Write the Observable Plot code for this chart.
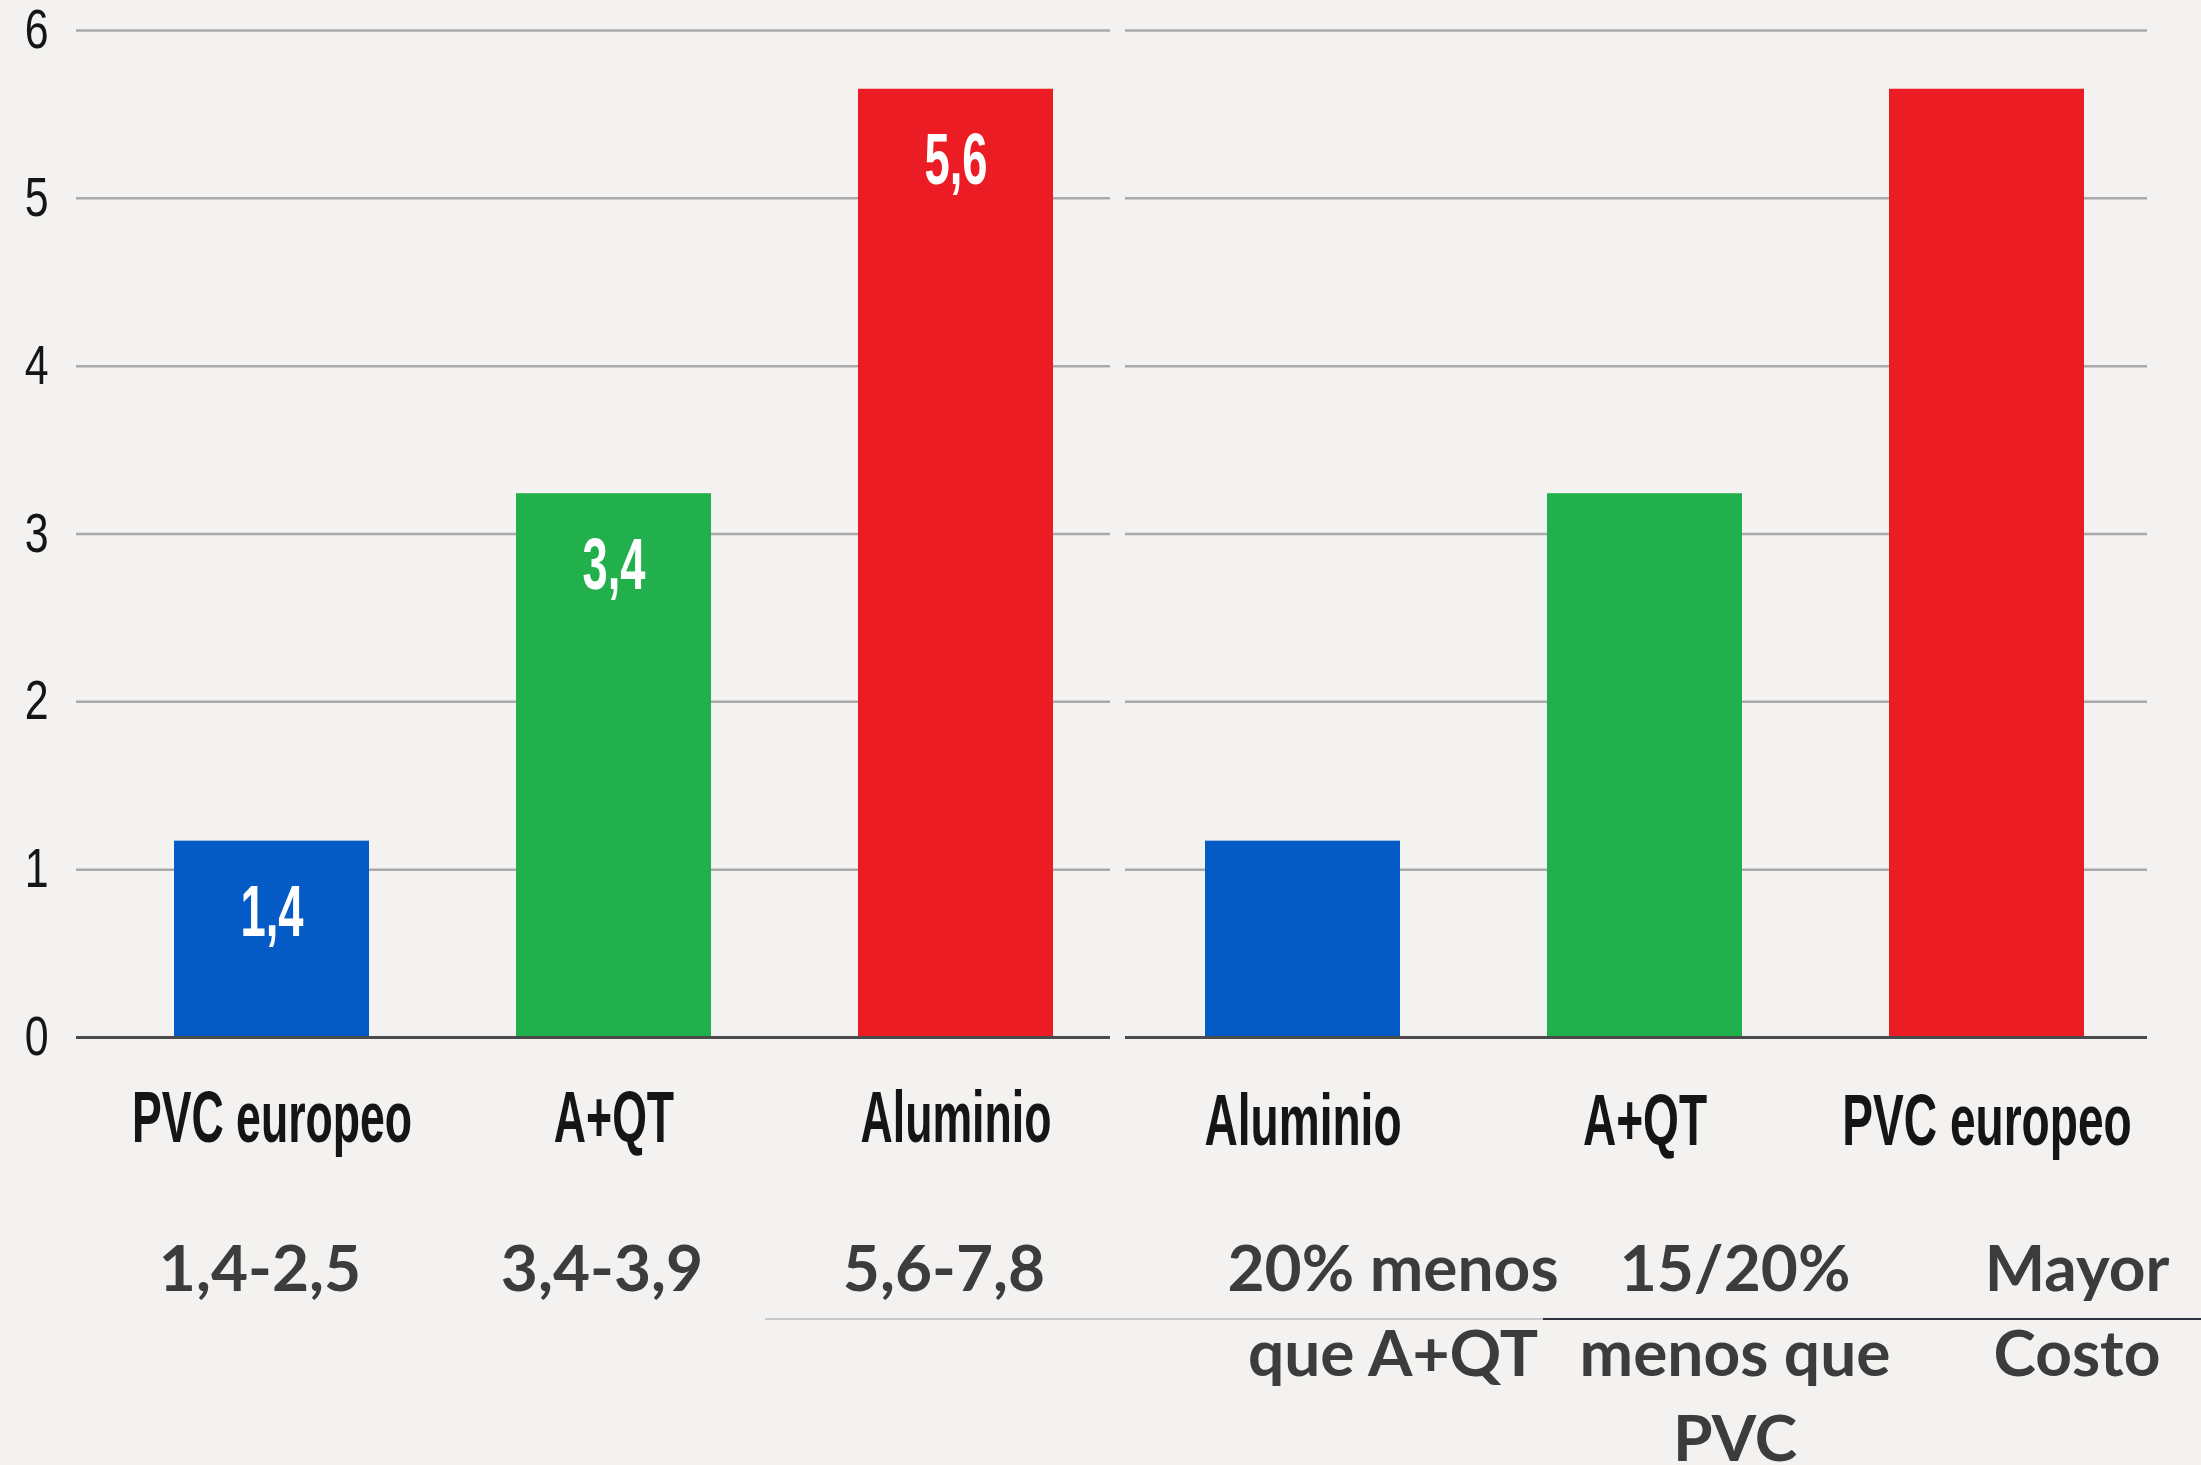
<!DOCTYPE html>
<html>
<head>
<meta charset="utf-8">
<script src="https://cdn.jsdelivr.net/npm/d3@7"></script>
<script src="https://cdn.jsdelivr.net/npm/@observablehq/plot@0.6"></script>
<style>
  html, body { margin: 0; padding: 0; background: #f3f2f0; }
  #wrap { position: relative; width: 2201px; height: 1465px; overflow: hidden; background: #f3f2f0; }
  #wrap svg { position: absolute; top: 0; overflow: visible; }
  .sep { position: absolute; height: 0; }
</style>
</head>
<body>
<div id="wrap"></div>
<script>
// ---- data ----
const leftCategories = ["PVC europeo", "A+QT", "Aluminio"];
const leftValues = [1.17, 3.24, 5.65];
const leftLabels = ["1,4", "3,4", "5,6"];
const leftNotes = ["1,4-2,5", "3,4-3,9", "5,6-7,8"];

const rightCategories = ["Aluminio", "A+QT", "PVC europeo"];
const rightValues = [1.17, 3.24, 5.65];
const rightNotes = ["20% menos\nque A+QT", "15/20%\nmenos que\nPVC", "Mayor\nCosto"];

const yTicks = [0, 1, 2, 3, 4, 5, 6];

// ---- styles ----
const barColors = ["#045bc6", "#22b04c", "#ec1c24"];
const NARROW = "'Liberation Sans', Arial, sans-serif";
const NOTEFONT = "Lato, 'Open Sans', sans-serif";
const H = 1465;

const leftRows = leftCategories.map((c, i) => ({cat: c, value: leftValues[i], label: leftLabels[i], note: leftNotes[i], rank: i}));
const rightRows = rightCategories.map((c, i) => ({cat: c, value: rightValues[i], note: rightNotes[i], rank: i}));

function panel(rows, cfg) {
  const marks = [
    Plot.gridY({ticks: yTicks, stroke: "#a9a9a9", strokeOpacity: 1, strokeWidth: 2.5}),
    Plot.barY(rows, {x: "cat", y: "value", fill: d => barColors[d.rank]}),
    Plot.ruleY([0], {stroke: "#4b4b4b", strokeWidth: 3}),
    Plot.axisX({tickSize: 0, tickPadding: cfg.labelPad, fontSize: 72, fontWeight: "bold", fontFamily: NARROW, label: null}),
    Plot.text(rows, {
      x: "cat", text: "note", frameAnchor: "bottom", lineAnchor: "top",
      dy: 193, dx: cfg.noteDx, fontSize: 64, fontWeight: "bold", fontFamily: NOTEFONT,
      fill: "#3c3c3c", lineHeight: 1.33
    })
  ];
  if (cfg.yAxis) {
    marks.push(Plot.axisY({ticks: yTicks, tickSize: 0, tickPadding: 28, fontSize: 55, fontFamily: NARROW, label: null, tickFormat: d => String(d)}));
  }
  if (cfg.inBar) {
    marks.push(Plot.text(rows, {
      x: "cat", y: "value", text: "label", fill: "white", lineAnchor: "top", dy: 44,
      fontSize: 72, fontWeight: "bold", fontFamily: NARROW
    }));
  }
  return Plot.plot({
    width: cfg.width,
    height: H,
    marginTop: 30,
    marginBottom: H - 1037,
    marginLeft: cfg.marginLeft,
    marginRight: cfg.marginRight,
    style: {background: "transparent", color: "#151515", overflow: "visible"},
    x: {domain: rows.map(d => d.cat), paddingInner: 0.43, paddingOuter: cfg.paddingOuter, align: cfg.align, axis: null, label: null},
    y: {domain: [0, 6], axis: null, label: null},
    color: {type: "identity"},
    marks
  });
}

// horizontally condense matching texts around their anchor (middle or end)
function condense(svg, texts, f, anchor) {
  const svgR = svg.getBoundingClientRect();
  const targets = [...svg.querySelectorAll("text")].filter(t => texts.includes(t.textContent));
  targets.forEach(t => {
    const r = t.getBoundingClientRect();
    const vx = (anchor === "end" ? r.right : (r.left + r.right) / 2) - svgR.left;
    const parent = t.parentNode;
    const m = parent.getCTM().inverse();
    const px = m.a * vx + m.e;
    const g = document.createElementNS("http://www.w3.org/2000/svg", "g");
    g.setAttribute("transform", `translate(${px.toFixed(2)},0) scale(${f},1) translate(${(-px).toFixed(2)},0)`);
    parent.insertBefore(g, t);
    g.appendChild(t);
  });
}

const wrap = document.getElementById("wrap");

const left = panel(leftRows, {width: 1120, marginLeft: 76, marginRight: 10, paddingOuter: 0.226, align: 0.634, labelPad: 53, noteDx: -12, yAxis: true, inBar: true});
left.style.left = "0px";
wrap.appendChild(left);

const right = panel(rightRows, {width: 1086, marginLeft: 10, marginRight: 54, paddingOuter: 0.209, align: 0.556, labelPad: 56, noteDx: 90, yAxis: false, inBar: false});
right.style.left = "1115px";
wrap.appendChild(right);

condense(left, leftCategories, 0.62, "middle");
condense(right, rightCategories, 0.64, "middle");
condense(left, leftLabels, 0.63, "middle");
condense(left, yTicks.map(String), 0.78, "end");

// thin separator line under the first note row
const s1 = document.createElement("div");
s1.className = "sep";
s1.style.cssText = "left:765px;width:778px;top:1318px;border-top:2px solid #c9c9c9;";
const s2 = document.createElement("div");
s2.className = "sep";
s2.style.cssText = "left:1543px;width:658px;top:1318px;border-top:2px solid #2f3440;";
wrap.appendChild(s1);
wrap.appendChild(s2);
</script>
</body>
</html>
